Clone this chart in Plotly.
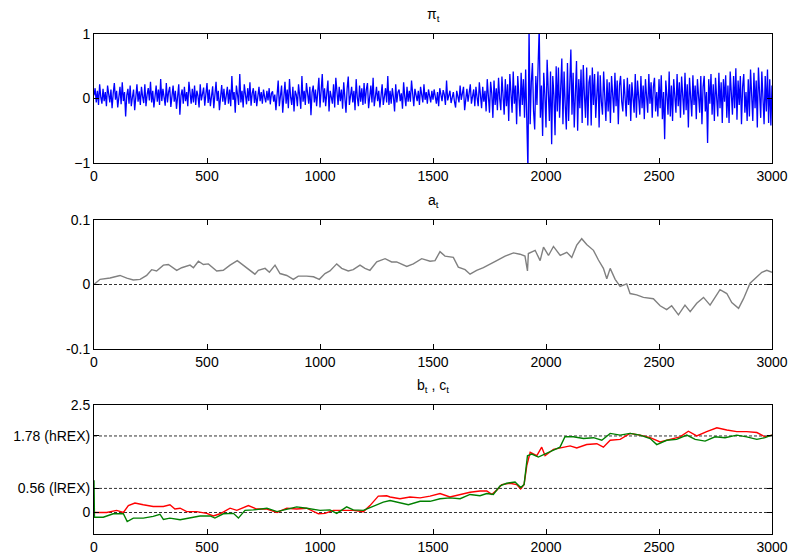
import plotly.graph_objects as go

# ---------------- data ----------------
pi_time = list(range(0, 3001, 5))
pi_vals = [
    0.05, 0.16, -0.06, 0.12, -0.10, 0.22, 0.02, -0.08, 0.15, -0.04,
    0.10, -0.12, 0.20, 0.04, -0.06, 0.14, -0.15, 0.08, 0.24, -0.02,
    0.12, -0.14, 0.06, 0.18, -0.09, 0.25, -0.04, 0.10, -0.28, 0.05,
    0.15, -0.08, 0.20, -0.12, 0.02, 0.14, -0.18, 0.09, 0.22, -0.05,
    0.11, -0.10, 0.18, 0.03, -0.07, 0.22, -0.12, 0.06, 0.16, -0.03,
    0.26, -0.06, 0.12, -0.14, 0.08, 0.20, -0.05, 0.14, -0.10, 0.30,
    -0.04, 0.15, 0.02, -0.11, 0.24, -0.06, 0.10, 0.18, -0.13, 0.07,
    0.20, -0.05, 0.12, -0.16, 0.09, 0.22, -0.25, 0.05, 0.14, -0.08,
    0.18, -0.04, 0.10, -0.12, 0.26, 0.03, -0.08, 0.15, -0.06, 0.20,
    -0.10, 0.12, 0.04, -0.14, 0.22, -0.03, 0.09, 0.17, -0.11, 0.06,
    0.24, -0.07, 0.14, -0.12, 0.05, 0.19, -0.15, 0.10, 0.26, -0.04,
    0.12, -0.18, 0.08, 0.21, -0.05, 0.15, -0.10, 0.03, 0.18, -0.08,
    0.14, -0.12, 0.35, -0.02, 0.10, -0.22, 0.20, 0.06, -0.10, 0.38,
    -0.06, 0.12, -0.14, 0.22, 0.04, -0.09, 0.16, -0.04, 0.25, -0.11,
    0.08, 0.16, -0.07, 0.12, -0.12, 0.05, 0.18, -0.04, 0.10, -0.08,
    0.14, 0.02, -0.06, 0.12, -0.03, 0.16, -0.09, 0.08, 0.11, -0.05,
    0.06, -0.18, 0.15, 0.28, -0.12, 0.05, 0.20, -0.22, 0.10, 0.26,
    -0.08, 0.14, -0.15, 0.30, 0.02, -0.10, 0.18, -0.20, 0.12, 0.06,
    -0.12, 0.22, 0.04, -0.16, 0.35, -0.05, 0.12, -0.10, 0.24, 0.03,
    -0.08, 0.18, -0.26, 0.10, 0.20, -0.06, 0.14, -0.12, 0.08, 0.32,
    -0.14, 0.10, 0.38, -0.06, 0.16, -0.12, 0.05, 0.28, -0.20, 0.12,
    0.02, -0.08, 0.22, -0.14, 0.32, 0.06, -0.10, 0.18, -0.04, 0.14,
    -0.16, 0.25, 0.04, -0.22, 0.15, 0.34, -0.10, 0.08, 0.18, -0.06,
    0.12, -0.18, 0.30, 0.02, -0.12, 0.20, -0.05, 0.16, -0.10, 0.24,
    -0.08, 0.14, 0.24, -0.15, 0.06, 0.20, -0.06, 0.32, -0.12, 0.10,
    0.18, -0.04, 0.12, -0.14, 0.08, 0.22, -0.10, 0.04, 0.16, -0.06,
    0.35, -0.10, 0.12, -0.08, 0.16, 0.02, -0.20, 0.22, -0.06, 0.10,
    0.14, -0.04, 0.08, -0.16, 0.25, 0.03, -0.12, 0.18, -0.05, 0.12,
    -0.05, 0.28, 0.02, -0.12, 0.15, 0.06, -0.04, 0.12, -0.10, 0.18,
    0.04, -0.06, 0.22, -0.02, 0.10, -0.08, 0.14, 0.00, -0.06, 0.12,
    -0.02, 0.14, 0.05, -0.08, 0.10, -0.12, 0.16, 0.02, -0.04, 0.13,
    0.06, -0.10, 0.28, -0.03, 0.08, 0.12, -0.07, 0.04, 0.10, -0.05,
    -0.14, 0.12, 0.03, -0.06, 0.20, -0.02, 0.08, 0.18, -0.18, 0.06,
    0.15, -0.05, 0.10, 0.22, -0.08, 0.04, 0.14, -0.12, 0.18, 0.02,
    -0.12, 0.25, 0.06, -0.15, 0.18, -0.05, 0.12, -0.20, 0.30, 0.04,
    -0.22, 0.26, 0.08, -0.30, 0.28, -0.10, 0.16, -0.18, 0.32, 0.00,
    -0.18, 0.34, 0.06, -0.25, 0.30, -0.12, 0.22, -0.35, 0.38, 0.05,
    -0.22, 0.42, -0.08, 0.20, -0.40, 0.35, 0.02, -0.28, 0.40, -0.10,
    0.30, -0.30, 0.45, -0.15, -1.10, 1.10, -0.40, 0.25, 0.55, -0.20,
    -0.48, 0.35, -0.10, 0.50, 1.10, -0.30, 0.20, -0.58, 0.40, 0.05,
    -0.45, 0.60, 0.10, -0.35, 0.42, -0.71, 0.35, 0.05, -0.57, 0.50,
    -0.20, 0.48, -0.30, 0.15, 0.62, -0.40, 0.42, -0.10, -0.48, 0.55,
    -0.35, 0.20, 0.76, -0.25, 0.40, -0.45, 0.10, 0.58, -0.50, 0.30,
    -0.15, 0.45, -0.38, 0.52, 0.05, -0.30, 0.48, -0.42, 0.25, 0.36,
    -0.42, 0.48, -0.10, 0.38, -0.30, 0.15, 0.42, -0.45, 0.36, -0.05,
    -0.25, 0.42, 0.10, -0.35, 0.30, -0.20, 0.25, -0.38, 0.35, 0.02,
    -0.22, 0.40, -0.12, 0.28, -0.40, 0.20, 0.35, -0.05, -0.20, 0.30,
    0.08, -0.28, 0.32, -0.10, 0.22, -0.35, 0.25, 0.05, -0.22, 0.38,
    -0.30, 0.28, 0.00, -0.25, 0.35, -0.15, 0.20, -0.32, 0.30, 0.06,
    -0.22, 0.38, -0.08, 0.25, -0.30, 0.18, 0.32, -0.20, 0.10, -0.28,
    0.30, -0.15, 0.36, -0.32, 0.10, -0.63, 0.28, 0.04, -0.25, 0.42,
    -0.28, 0.20, -0.35, 0.30, 0.08, -0.22, 0.38, -0.12, 0.25, -0.30,
    0.34, -0.05, -0.25, 0.40, -0.18, 0.22, -0.45, 0.32, 0.02, -0.28,
    0.36, -0.10, 0.20, -0.32, 0.30, 0.05, -0.22, 0.35, -0.40, 0.18,
    0.35, -0.20, 0.10, -0.69, 0.30, -0.08, 0.38, -0.25, 0.22, -0.35,
    0.32, 0.02, -0.28, 0.40, -0.15, 0.25, -0.38, 0.30, -0.05, 0.36,
    -0.30, 0.20, -0.38, 0.42, 0.05, -0.25, 0.35, -0.15, 0.47, -0.33,
    0.28, -0.10, 0.35, -0.40, 0.18, 0.38, -0.22, 0.10, -0.35, 0.30,
    -0.28, 0.45, 0.05, -0.35, 0.40, -0.15, 0.28, -0.45, 0.48, -0.05,
    -0.30, 0.42, 0.10, -0.40, 0.35, -0.20, 0.45, -0.38, 0.30, -0.42,
    0.20,
]

a_time = [
    0, 27, 71, 115, 145, 174, 204, 233, 255, 277,
    307, 329, 366, 388, 425, 440, 462, 484, 506, 528,
    543, 572, 602, 634, 653, 676, 712, 727, 757, 776,
    801, 823, 853, 882, 904, 941, 971, 997, 1022, 1044,
    1074, 1096, 1125, 1147, 1177, 1199, 1221, 1251, 1288, 1317,
    1339, 1384, 1413, 1450, 1487, 1509, 1531, 1553, 1590, 1612,
    1642, 1664, 1693, 1723, 1752, 1782, 1819, 1856, 1885, 1907,
    1918, 1922, 1952, 1974, 1989, 2011, 2033, 2063, 2092, 2114,
    2136, 2158, 2180, 2210, 2232, 2254, 2269, 2284, 2306, 2328,
    2357, 2372, 2401, 2431, 2475, 2505, 2534, 2556, 2586, 2615,
    2638, 2667, 2697, 2726, 2748, 2770, 2800, 2822, 2852, 2874,
    2903, 2925, 2955, 2977, 3000,
]
a_vals = [
    0, 0.008, 0.010, 0.014, 0.010, 0.007, 0.008, 0.014, 0.023, 0.021,
    0.030, 0.031, 0.022, 0.026, 0.030, 0.026, 0.036, 0.031, 0.032, 0.026,
    0.021, 0.022, 0.030, 0.037, 0.032, 0.025, 0.016, 0.022, 0.025, 0.019,
    0.030, 0.017, 0.014, 0.008, 0.013, 0.013, 0.012, 0.008, 0.017, 0.021,
    0.032, 0.025, 0.021, 0.023, 0.030, 0.025, 0.022, 0.035, 0.040, 0.035,
    0.035, 0.028, 0.032, 0.040, 0.036, 0.037, 0.051, 0.044, 0.042, 0.027,
    0.023, 0.016, 0.022, 0.026, 0.032, 0.037, 0.044, 0.049, 0.047, 0.044,
    0.021, 0.048, 0.053, 0.037, 0.058, 0.045, 0.059, 0.045, 0.050, 0.042,
    0.061, 0.071, 0.062, 0.053, 0.038, 0.025, 0.009, 0.025, 0.008, -0.003,
    0.001, -0.014, -0.016, -0.020, -0.022, -0.033, -0.039, -0.033, -0.047, -0.032,
    -0.042, -0.029, -0.020, -0.032, -0.020, -0.008, -0.014, -0.028, -0.037, -0.022,
    0.002, 0.009, 0.019, 0.022, 0.019,
]

b_time = [
    0, 56, 100, 130, 152, 181, 218, 262, 307, 336,
    358, 381, 410, 454, 499, 528, 558, 602, 632, 683,
    720, 765, 810, 853, 897, 941, 993, 1022, 1059, 1103,
    1147, 1192, 1221, 1258, 1295,
    1310, 1354, 1398, 1443, 1487, 1531, 1575, 1620, 1664, 1708,
    1738, 1760, 1782, 1804, 1841, 1870, 1888, 1903, 1915, 1930,
    1959, 1981, 1996, 2033, 2062, 2107, 2136, 2180, 2225, 2254,
    2284, 2328, 2372, 2416, 2461, 2505, 2549, 2593, 2630, 2667,
    2711, 2756, 2800, 2844, 2888, 2933, 2969, 3000,
]
b_vals = [
    0, 0, 0.05, 0, 0.16, 0.22, 0.18, 0.14, 0.14, 0.18,
    0.08, 0.10, 0.02, 0.02, -0.02, -0.08, -0.03, 0.10, 0.05, 0.16,
    0.08, 0.08, 0, 0.10, 0.08, 0.10, -0.03, -0.02, 0.05, 0.05,
    0.05, 0.02, 0.16, 0.38, 0.39,
    0.36, 0.32, 0.36, 0.34, 0.38, 0.44, 0.36, 0.42, 0.47, 0.50,
    0.50, 0.42, 0.52, 0.65, 0.68, 0.65, 0.55, 0.65, 1.09, 1.40,
    1.32, 1.52, 1.32, 1.47, 1.50, 1.55, 1.50, 1.58, 1.60, 1.52,
    1.68, 1.70, 1.84, 1.80, 1.74, 1.64, 1.70, 1.76, 1.89, 1.78,
    1.88, 1.97, 1.92, 1.88, 1.88, 1.86, 1.76, 1.80,
]

c_time = [
    0, 2, 41, 85, 130, 147, 174, 218, 262, 292,
    307, 336, 381, 425, 469, 514, 535, 572, 617, 639,
    668, 705, 765, 810, 853, 897, 941, 1000, 1044, 1074,
    1118, 1147, 1192, 1236, 1280,
    1310, 1354, 1391, 1443, 1487, 1531, 1575, 1620, 1664, 1708,
    1738, 1767, 1797, 1826, 1863, 1888, 1903, 1918, 1937, 1966,
    1996, 2033, 2062, 2084, 2121, 2166, 2210, 2247, 2284, 2328,
    2372, 2416, 2461, 2490, 2534, 2578, 2623, 2660, 2704, 2748,
    2792, 2844, 2888, 2933, 2969, 3000,
]
c_vals = [
    0.75, -0.11, -0.11, -0.03, -0.03, -0.21, -0.13, -0.13, -0.09, -0.04,
    -0.16, -0.13, -0.17, -0.13, -0.08, -0.08, -0.13, -0.03, -0.02, -0.13,
    0.05, 0.06, 0.10, 0.02, 0.08, 0.13, 0.10, 0.05, 0.06, -0.02,
    0.13, 0.06, 0.05, 0.14, 0.24,
    0.28, 0.22, 0.18, 0.26, 0.26, 0.32, 0.34, 0.32, 0.42, 0.39,
    0.44, 0.42, 0.62, 0.68, 0.71, 0.58, 0.65, 1.32, 1.36, 1.29,
    1.36, 1.44, 1.52, 1.76, 1.76, 1.72, 1.74, 1.68, 1.84, 1.80,
    1.84, 1.80, 1.72, 1.58, 1.68, 1.70, 1.80, 1.70, 1.66, 1.76,
    1.74, 1.80, 1.76, 1.70, 1.74, 1.80,
]

x_ticks = [0, 500, 1000, 1500, 2000, 2500, 3000]
pi_yticks = [-1, 0, 1]
a_yticks = [-0.1, 0, 0.1]
a_yticklabels = ["-0.1", "0", "0.1"]
bc_yticks = [0, 0.56, 1.78, 2.5]
bc_yticklabels = ["0", "0.56 (lREX)", "1.78 (hREX)", "2.5"]
bc_levels = [0, 0.56, 1.78]
a_levels = [0]
titles = ["π<sub>t</sub>", "a<sub>t</sub>", "b<sub>t</sub> , c<sub>t</sub>"]

# ---------------- figure ----------------
FONT = "Liberation Sans, Arial, sans-serif"
fig = go.Figure()
fig.add_trace(go.Scatter(x=pi_time, y=pi_vals, mode="lines",
                         line=dict(color="#0000FF", width=1.3),
                         xaxis="x", yaxis="y", showlegend=False))
fig.add_trace(go.Scatter(x=a_time, y=a_vals, mode="lines",
                         line=dict(color="#808080", width=1.4),
                         xaxis="x2", yaxis="y2", showlegend=False))
fig.add_trace(go.Scatter(x=b_time, y=b_vals, mode="lines",
                         line=dict(color="#FF0000", width=1.4),
                         xaxis="x3", yaxis="y3", showlegend=False))
fig.add_trace(go.Scatter(x=c_time, y=c_vals, mode="lines",
                         line=dict(color="#008000", width=1.4),
                         xaxis="x3", yaxis="y3", showlegend=False))

common = dict(showline=True, linecolor="black", linewidth=1, mirror="ticks",
              ticks="inside", ticklen=5, tickcolor="black", tickwidth=1,
              showgrid=False, zeroline=False, automargin=False,
              tickfont=dict(family=FONT, size=14, color="black"))

xa = dict(common, range=[0, 3000], tickvals=x_ticks)
fig.update_layout(
    width=792, height=555,
    margin=dict(l=94, r=20, t=34, b=21),
    paper_bgcolor="white", plot_bgcolor="white",
    xaxis=dict(xa, anchor="y", domain=[0, 1]),
    xaxis2=dict(xa, anchor="y2", domain=[0, 1]),
    xaxis3=dict(xa, anchor="y3", domain=[0, 1]),
    yaxis=dict(common, anchor="x", domain=[0.742, 1], range=[-1, 1],
               tickvals=pi_yticks),
    yaxis2=dict(common, anchor="x2", domain=[0.37, 0.628], range=[-0.1, 0.1],
                tickvals=a_yticks, ticktext=a_yticklabels),
    yaxis3=dict(common, anchor="x3", domain=[0, 0.258], range=[-0.5, 2.5],
                tickvals=bc_yticks, ticktext=bc_yticklabels),
)

for lv in a_levels:
    fig.add_shape(type="line", xref="x2", yref="y2", x0=0, x1=3000, y0=lv, y1=lv,
                  line=dict(color="#333333", width=1, dash="3px,2px"), layer="below")
for lv in bc_levels:
    fig.add_shape(type="line", xref="x3", yref="y3", x0=0, x1=3000, y0=lv, y1=lv,
                  line=dict(color="#333333", width=1, dash="3px,2px"), layer="below")

tops = [1.0, 0.628, 0.258]
for t, ytop in zip(titles, tops):
    fig.add_annotation(text=t, xref="paper", yref="paper", x=0.5, y=ytop,
                       xanchor="center", yanchor="bottom", yshift=8, showarrow=False,
                       font=dict(family=FONT, size=14, color="black"))

fig.write_html("out.html")
